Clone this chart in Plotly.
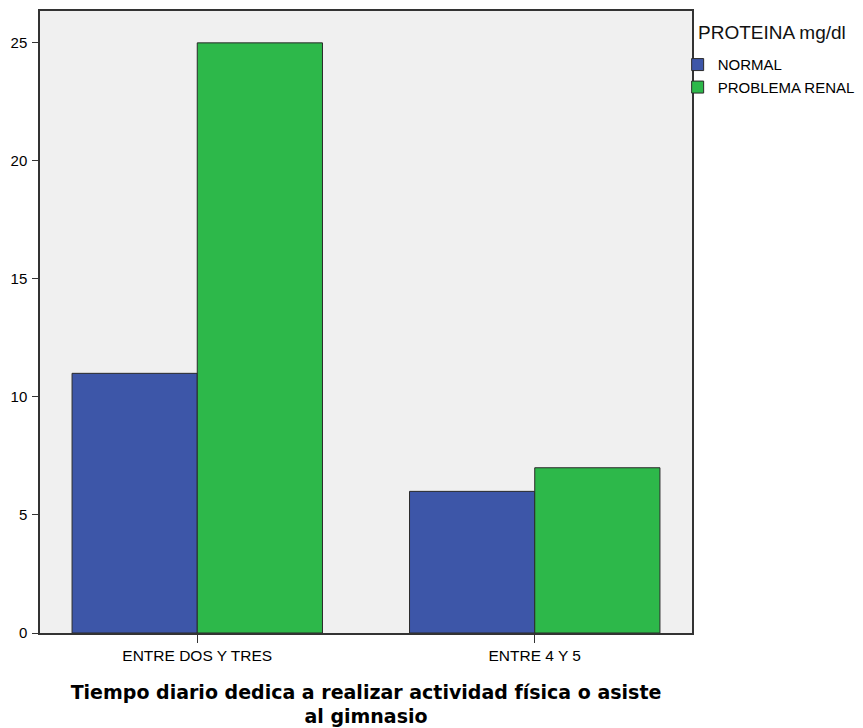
import plotly.graph_objects as go

# Datos
categorias = ["ENTRE DOS Y TRES", "ENTRE 4 Y 5"]
normal = [11, 6]
problema_renal = [25, 7]
series = ["NORMAL", "PROBLEMA RENAL"]
colores = ["#3D56A8", "#2DB84A"]
y_ticks = [0, 5, 10, 15, 20, 25]

fig = go.Figure()
for nombre, valores, color in zip(series, [normal, problema_renal], colores):
    fig.add_trace(go.Bar(
        x=categorias, y=valores, name=nombre,
        marker=dict(color=color, line=dict(color="#2a2a2a", width=1)),
    ))

# la página tiene 8px de margen en el body, por eso 855x720
fig.update_layout(
    width=855, height=720,
    margin=dict(l=32, r=171, t=3, b=95, autoexpand=False),
    barmode="group", bargap=0.258, bargroupgap=0,
    plot_bgcolor="#F0F0F0", paper_bgcolor="white",
    font=dict(family="Liberation Sans, Arial, sans-serif", color="black"),
    legend=dict(
        font=dict(size=15), x=0.978, y=0.94, xanchor="left", yanchor="top",
        itemwidth=30, bgcolor="rgba(0,0,0,0)", tracegroupgap=0,
    ),
    annotations=[dict(
        text="PROTEINA mg/dl", xref="paper", yref="paper",
        x=1.006, y=0.965, xanchor="left", yanchor="middle",
        showarrow=False, font=dict(size=19, color="#111"),
    )],
)

fig.update_xaxes(
    type="category", range=[-0.466, 1.466],
    showline=True, linecolor="#333", linewidth=1.5, mirror=True,
    ticks="outside", ticklen=8, tickcolor="#333",
    tickfont=dict(size=15.5),
    title=dict(
        text="<b>Tiempo diario dedica a realizar actividad física o asiste<br>al gimnasio</b>",
        font=dict(size=19, family="DejaVu Sans, Verdana, sans-serif"),
        standoff=22,
    ),
    showgrid=False,
)
fig.update_yaxes(
    range=[0, 26.35], tickvals=y_ticks,
    showline=True, linecolor="#333", linewidth=1.5, mirror=True,
    ticks="outside", ticklen=6, tickcolor="#333", ticklabelstandoff=2,
    tickfont=dict(size=15), showgrid=False, zeroline=False,
)

fig.write_html("out.html")
